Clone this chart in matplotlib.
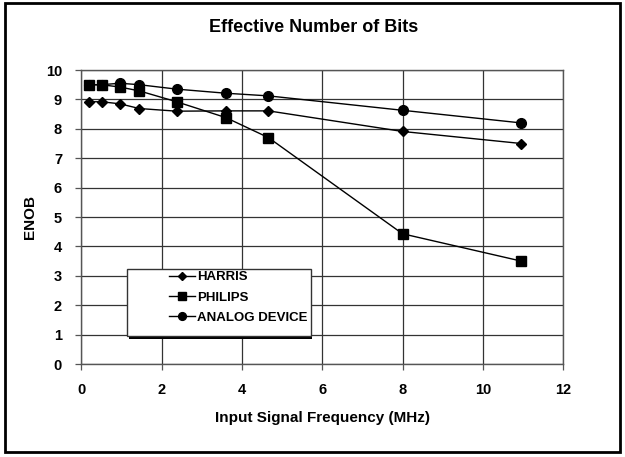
import matplotlib
matplotlib.use("Agg")
import matplotlib.pyplot as plt
from matplotlib.patches import Rectangle

plt.rcParams['font.family'] = ['Liberation Sans', 'DejaVu Sans']
plt.rcParams['font.weight'] = 'bold'

# 讀圖估計的資料
freq = [0.18, 0.5, 0.96, 1.44, 2.37, 3.6, 4.66, 8.0, 10.96]
harris = [8.92, 8.92, 8.85, 8.69, 8.6, 8.61, 8.61, 7.91, 7.5]
philips = [9.5, 9.5, 9.42, 9.29, 8.92, 8.38, 7.7, 4.43, 3.5]
analog = [9.5, 9.5, 9.55, 9.5, 9.35, 9.21, 9.12, 8.63, 8.2]

labels = ["HARRIS", "PHILIPS", "ANALOG DEVICE"]
markers = ["D", "s", "o"]
msizes = [5.5, 7.5, 7]

xticks = [0, 2, 4, 6, 8, 10, 12]
yticks = list(range(0, 11))

W, H = 625, 457
fig = plt.figure(figsize=(W / 100, H / 100), dpi=100)
ax = fig.add_axes([0.1304, 0.2035, 0.7704, 0.6433])

for ys, lab, m, ms in zip([harris, philips, analog], labels, markers, msizes):
    ax.plot(freq, ys, color="black", lw=1, marker=m, ms=ms, label=lab)

ax.set_xlim(0, 12)
ax.set_ylim(0, 10)
ax.set_xticks(xticks)
ax.set_yticks(yticks)
ax.grid(True, color="#333333", lw=0.9)
ax.set_axisbelow(True)
for sp in ax.spines.values():
    sp.set_color("#555555")
    sp.set_linewidth(1)
ax.tick_params(direction="out", length=4, width=0.9, color="#555555",
               labelsize=10.5, pad=10)
for t in ax.get_xticklabels() + ax.get_yticklabels():
    t.set_fontweight("bold")

ax.set_xlabel("Input Signal Frequency (MHz)", fontsize=11, fontweight="bold", labelpad=10)
ax.set_ylabel("ENOB", fontsize=11, fontweight="bold", labelpad=6)
fig.text(0.502, 0.94, "Effective Number of Bits", ha="center", va="center",
         fontsize=13, fontweight="bold")

# 圖例框（含陰影）
x0, x1 = 126.5 / W, 311 / W
y0, y1 = 1 - 335.5 / H, 1 - 269 / H
fig.patches.append(Rectangle((x0 + 2 / W, y0 - 3 / H), x1 - x0 - 1 / W, y1 - y0,
                             transform=fig.transFigure, facecolor="black",
                             edgecolor="none", zorder=4))
fig.patches.append(Rectangle((x0, y0), x1 - x0, y1 - y0,
                             transform=fig.transFigure, facecolor="white",
                             edgecolor="#333333", lw=1, zorder=5))

leg = fig.legend(loc="upper left", bbox_to_anchor=(169 / W, 1 - 271 / H),
                 bbox_transform=fig.transFigure, frameon=False,
                 fontsize=9.5, handlelength=2.0, handletextpad=0.15,
                 borderpad=0, borderaxespad=0, labelspacing=0.62,
                 markerscale=0.8)
leg.set_zorder(6)
for t in leg.get_texts():
    t.set_fontweight("bold")

# 外框
fig.patches.append(Rectangle((5 / W, 5 / H), 615 / W, 449 / H,
                             transform=fig.transFigure, fill=False,
                             edgecolor="black", lw=2))

fig.savefig("out.png", dpi=100)
